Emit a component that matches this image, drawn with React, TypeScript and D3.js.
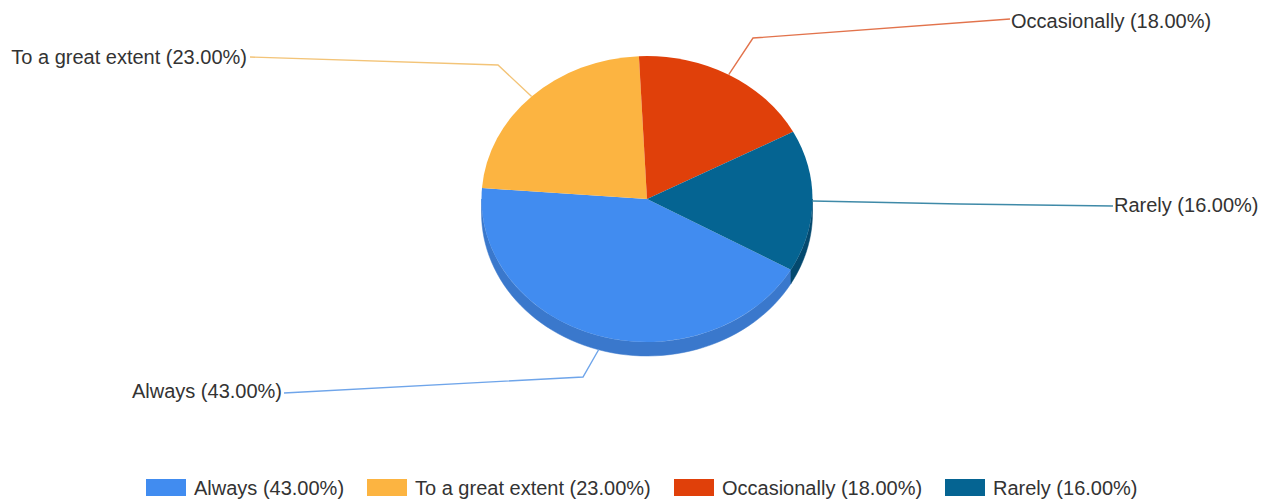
import React from "react";
import * as d3 from "d3";

const categories = ["Always", "To a great extent", "Occasionally", "Rarely"];
const values = [43, 23, 18, 16];
const colors = ["#418cf0", "#fcb441", "#e0400a", "#056492"];
const wallColors = ["#3a78cc", "#d99b38", "#b8350a", "#04496e"];
const lineColors = ["#6fa5ea", "#f3c478", "#e2734c", "#3f8aa8"];

// label layout: elbow point and line end, with text anchor
const labelLayout = [
  { elbow: [583, 377], end: [284, 393], anchor: "end", tx: 282, ty: 398 },
  { elbow: [498, 65], end: [250, 57], anchor: "end", tx: 247, ty: 64 },
  { elbow: [753, 38], end: [1010, 19], anchor: "start", tx: 1011, ty: 28 },
  { elbow: [960, 204], end: [1113, 206], anchor: "start", tx: 1114, ty: 212 },
];
const legendSwatchX = [146, 367, 674, 945];
const legendTextX = [194, 415, 722, 993];

const W = 1270, H = 501;
const cx = 647, cy = 199, rx = 165.5, ry = 143, depth = 14;
const FONT = "'Liberation Sans', Arial, sans-serif";
const startA = (119.6 * Math.PI) / 180;

export default function App() {
  const label = (i: number) => `${categories[i]} (${values[i].toFixed(2)}%)`;
  const arcs = d3.pie<number>().sort(null).startAngle(startA).endAngle(startA + 2 * Math.PI)(values);
  const arcGen = d3.arc<d3.PieArcDatum<number>>().innerRadius(0).outerRadius(rx);
  const rim = (a: number, dy = 0): [number, number] => [cx + rx * Math.sin(a), cy - ry * Math.cos(a) + dy];
  const line = d3.line();

  const walls = arcs.map((d) => {
    // only the part of the rim facing the viewer (90deg..270deg clockwise from top)
    const pts: [number, number][] = [];
    const lo = Math.PI / 2, hi = (3 * Math.PI) / 2;
    const a0 = Math.max(d.startAngle, lo), a1 = Math.min(d.endAngle, hi);
    let top: [number, number][] = [];
    if (a1 > a0) top = d3.range(0, 61).map((k) => rim(a0 + ((a1 - a0) * k) / 60));
    const a2 = Math.max(d.startAngle, lo + 2 * Math.PI), a3 = Math.min(d.endAngle, hi + 2 * Math.PI);
    if (a3 > a2) top = d3.range(0, 61).map((k) => rim(a2 + ((a3 - a2) * k) / 60));
    if (!top.length) return "";
    pts.push(...top, ...top.slice().reverse().map(([x, y]) => [x, y + depth] as [number, number]));
    return line(pts) + "Z";
  });

  const wallOrder = [0, 3];
  const scaleY = ry / rx;

  return (
    <svg width={W} height={H} style={{ position: "absolute", left: 0, top: 0, background: "#fff" }} fontFamily={FONT}>
      <g>
        {wallOrder.map((i) => (
          <path key={i} d={walls[i]} fill={wallColors[i]} stroke={wallColors[i]} strokeWidth={0.5} />
        ))}
      </g>
      <g transform={`translate(${cx},${cy}) scale(1,${scaleY})`}>
        {arcs.map((d, i) => (
          <path key={i} d={arcGen(d) || ""} fill={colors[i]} />
        ))}
      </g>
      {arcs.map((d, i) => {
        const mid = (d.startAngle + d.endAngle) / 2;
        const facing = Math.cos(mid) < 0;
        const s = rim(mid, facing && i === 0 ? depth : 0);
        const l = labelLayout[i];
        return (
          <g key={i}>
            <path d={line([s, l.elbow as [number, number], l.end as [number, number]]) || ""} fill="none" stroke={lineColors[i]} strokeWidth={1.4} />
            <text x={l.tx} y={l.ty} textAnchor={l.anchor} fontSize={20} fill="#333">
              {label(i)}
            </text>
          </g>
        );
      })}
      {categories.map((_, i) => (
        <g key={i}>
          <rect x={legendSwatchX[i]} y={479} width={40} height={17} fill={colors[i]} />
          <text x={legendTextX[i]} y={495} fontSize={20} fill="#333">
            {label(i)}
          </text>
        </g>
      ))}
    </svg>
  );
}
